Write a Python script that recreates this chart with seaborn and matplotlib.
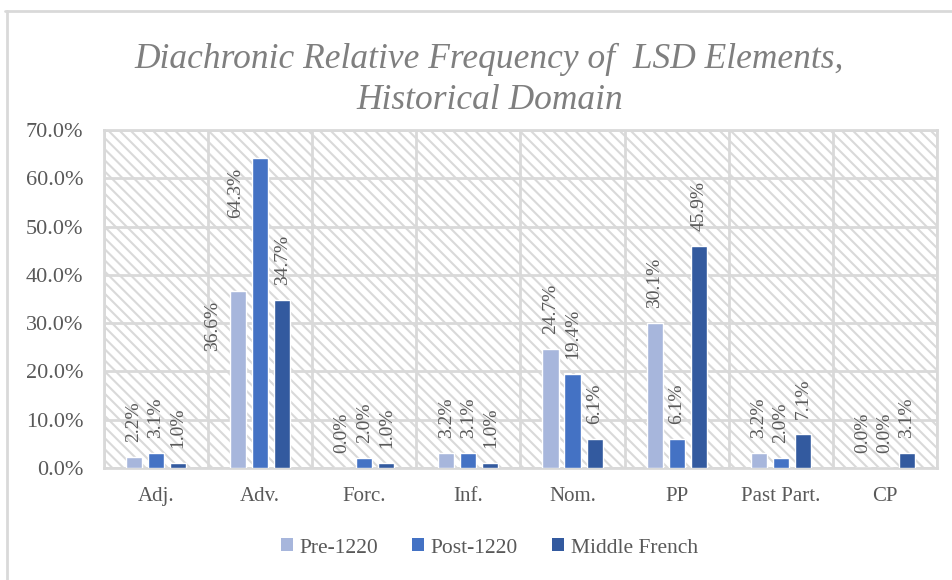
import seaborn as sns
import matplotlib.pyplot as plt
import matplotlib as mpl
from matplotlib.patches import Patch
from matplotlib.lines import Line2D
from matplotlib.ticker import PercentFormatter, MultipleLocator
import pandas as pd

# data (percent)
categories = ['Adj.', 'Adv.', 'Forc.', 'Inf.', 'Nom.', 'PP', 'Past Part.', 'CP']
periods = ['Pre-1220', 'Post-1220', 'Middle French']
pre_1220 = [2.2, 36.6, 0.0, 3.2, 24.7, 30.1, 3.2, 0.0]
post_1220 = [3.1, 64.3, 2.0, 3.1, 19.4, 6.1, 2.0, 0.0]
middle_french = [1.0, 34.7, 1.0, 1.0, 6.1, 45.9, 7.1, 3.1]

COLORS = ['#A7B6DC', '#4472C4', '#335A9F']
GRID = '#D9D9D9'
TEXT = '#595959'
SERIF = ['Liberation Serif', 'DejaVu Serif']

sns.set_style('white')
plt.rcParams['font.family'] = SERIF
plt.rcParams['hatch.color'] = GRID
plt.rcParams['hatch.linewidth'] = 1.5

df = pd.DataFrame({
    'Category': categories * 3,
    'Period': [periods[0]] * 8 + [periods[1]] * 8 + [periods[2]] * 8,
    'Value': pre_1220 + post_1220 + middle_french,
})

fig = plt.figure(figsize=(9.52, 5.8), dpi=100)
ax = fig.add_axes([0.1092, 0.1931, 0.875, 0.5828])

# excel style hatched plot area
ax.patch.set_hatch('\\\\\\')
ax.patch.set_edgecolor(GRID)

sns.barplot(data=df, x='Category', y='Value', hue='Period', hue_order=periods,
            palette=COLORS, width=0.635, gap=0.27, saturation=1, legend=False,
            ax=ax, zorder=3)

ax.set_xlim(-0.5, 7.5)
ax.set_ylim(0, 70)
ax.yaxis.set_major_locator(MultipleLocator(10))
ax.yaxis.set_major_formatter(PercentFormatter(100, decimals=1))
ax.set_xticks([i + 0.5 for i in range(-1, 8)], minor=True)
ax.grid(True, which='major', axis='y', color=GRID, lw=2)
ax.grid(True, which='minor', axis='x', color=GRID, lw=2)
ax.grid(False, which='major', axis='x')
ax.set_axisbelow(True)
for s in ax.spines.values():
    s.set_color(GRID)
    s.set_linewidth(2)
ax.tick_params(axis='both', which='both', length=0, labelsize=15, labelcolor=TEXT)
ax.tick_params(axis='y', labelsize=16, pad=15)
ax.tick_params(axis='x', pad=14)
ax.set_xlabel('')
ax.set_ylabel('')

# data labels; two in Adv. were moved by hand in the original
moved = {(0, 1): (-26, -60), (1, 1): (-25, -60)}
for si, cont in enumerate(ax.containers):
    for ci, bar in enumerate(cont):
        x = bar.get_x() + bar.get_width() / 2
        h = bar.get_height()
        dx, dy = moved.get((si, ci), (0, 15))
        ax.annotate(f'{h:.1f}%', (x, h), xytext=(dx, dy), textcoords='offset pixels',
                    rotation=90, ha='center', va='bottom', fontsize=14, color=TEXT)

fig.text(0.514, 0.862, 'Diachronic Relative Frequency of  LSD Elements,\nHistorical Domain',
         ha='center', va='center', fontsize=25.5, style='italic', color='#7F7F7F',
         linespacing=1.3)

handles = [Patch(facecolor=c, edgecolor='none') for c in COLORS]
fig.legend(handles, periods, loc='center', bbox_to_anchor=(0.514, 1 - 548 / 580), ncol=3,
           frameon=False, fontsize=15.5, labelcolor=TEXT, handlelength=0.55,
           handleheight=0.55, handletextpad=0.3, columnspacing=1.6)

# chart frame (only top and left edges visible in the crop)
fig.add_artist(Line2D([5 / 952, 1], [1 - 11 / 580] * 2, transform=fig.transFigure, color=GRID, lw=2))
fig.add_artist(Line2D([7 / 952] * 2, [0, 1 - 11 / 580], transform=fig.transFigure, color=GRID, lw=2))

plt.savefig('out.png', dpi=100)
